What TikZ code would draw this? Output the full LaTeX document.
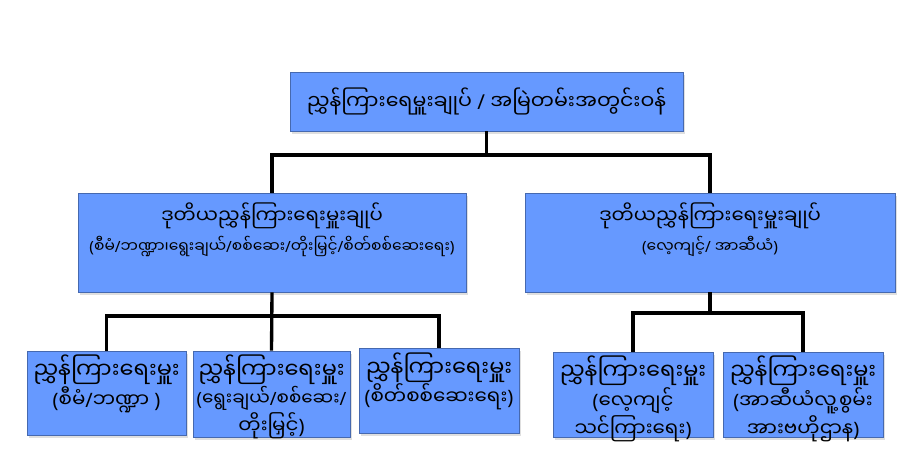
\documentclass[tikz,border=0pt]{standalone}
\usepackage{fontspec}
\newfontfamily\mmfont[Script=Myanmar]{Noto Sans Myanmar UI}
\newfontfamily\latinfont{Noto Sans}
\newcommand{\opar}{{\latinfont(}}
\newcommand{\cpar}{{\latinfont)}}
\newcommand{\slsh}{{\latinfont/}}
\newcommand{\dirtitle}{{\fontsize{12.8}{13}\selectfont ညွှန်ကြားရေးမှူး}}
\usetikzlibrary{positioning,shadows}
\definecolor{boxblue}{RGB}{102,153,255}
\definecolor{boxedge}{RGB}{70,105,175}

\begin{document}
\begin{tikzpicture}[x=0.02cm,y=-0.02cm,
    orgbox/.style={draw=boxedge, fill=boxblue, line width=0.4pt, inner sep=0pt,
      drop shadow={opacity=0.25, shadow xshift=1.2pt, shadow yshift=-1.5pt}},
    orgtext/.style={align=center, inner sep=0pt, font=\mmfont},
    subtext/.style={orgtext, font=\mmfont\fontsize{11.3}{12.6}\selectfont},
    link/.style={line width=1.9pt}]
  \useasboundingbox (0,0) rectangle (923,463);

  % boxes
  \node[orgbox, minimum width=7.86cm, minimum height=1.18cm, font=\mmfont\fontsize{11.7}{15}\selectfont]
    (top) at (486.5,101.5) {ညွှန်ကြားရေမှူးချုပ် \slsh{} အမြဲတမ်းအတွင်းဝန်};
  \node[orgbox, minimum width=7.76cm, minimum height=1.98cm] (sl) at (272,242.5) {};
  \node[orgbox, minimum width=7.40cm, minimum height=1.98cm] (sr) at (710,242.5) {};

  \node[orgbox, minimum width=3.18cm, minimum height=1.68cm] (b1) at (106.5,393) {};
  \node[orgbox, minimum width=3.14cm, minimum height=1.72cm] (b2) at (271.5,394) {};
  \node[orgbox, minimum width=3.20cm, minimum height=1.70cm] (b3) at (439,391) {};
  \node[orgbox, minimum width=3.20cm, minimum height=1.70cm] (b4) at (633,394.5) {};
  \node[orgbox, minimum width=3.20cm, minimum height=1.70cm] (b5) at (803,394.5) {};

  % texts
  \node[orgtext, below=0.2cm of sl.north] (sl-t)
    {{\fontsize{11.2}{15}\selectfont ဒုတိယညွှန်ကြားရေးမှူးချုပ်}\\[3pt]
     {\fontsize{8.8}{13}\selectfont \opar{}စီမံ\slsh{}ဘဏ္ဍာ၊ရွေးချယ်\slsh{}စစ်ဆေး\slsh{}တိုးမြှင့်\slsh{}စိတ်စစ်ဆေးရေး\cpar}};
  \node[orgtext, below=0.2cm of sr.north] (sr-t)
    {{\fontsize{11.2}{15}\selectfont ဒုတိယညွှန်ကြားရေးမှူးချုပ်}\\[3pt]
     {\fontsize{8.8}{13}\selectfont \opar{}လေ့ကျင့်\slsh{} အာဆီယံ\cpar}};

  \node[subtext, below=0.08cm of b1.north] (b1-t) {\dirtitle\\\opar{}စီမံ\slsh{}ဘဏ္ဍာ \cpar};
  \node[subtext, below=0.08cm of b2.north] (b2-t)
    {\dirtitle\\{\fontsize{10.4}{12.6}\selectfont\opar{}ရွေးချယ်\slsh{}စစ်ဆေး\slsh}\\တိုးမြှင့်\cpar};
  \node[subtext, below=0.08cm of b3.north] (b3-t) {\dirtitle\\\opar{}စိတ်စစ်ဆေးရေး\cpar};
  \node[subtext, below=0.08cm of b4.north] (b4-t) {\dirtitle\\\opar{}လေ့ကျင့်\\သင်ကြားရေး\cpar};
  \node[subtext, below=0.08cm of b5.north] (b5-t) {\dirtitle\\\opar{}အာဆီယံလူ့စွမ်း\\အားဗဟိုဌာန\cpar};

  % connectors
  \coordinate (bar1) at (487,155);
  \coordinate (bar2) at (272,316);
  \coordinate (bar3) at (710,313);
  \draw[link] (top.south) -- (top.south |- bar1);
  \draw[link] (sl.north) |- (bar1) -| (sr.north);
  \draw[link] (sl.south) -- (b2.north);
  \draw[link] (b1.north) |- (bar2) -| (b3.north);
  \draw[link] (sr.south) -- (sr.south |- bar3);
  \draw[link] (b4.north) |- (bar3) -| (b5.north);
\end{tikzpicture}
\end{document}
